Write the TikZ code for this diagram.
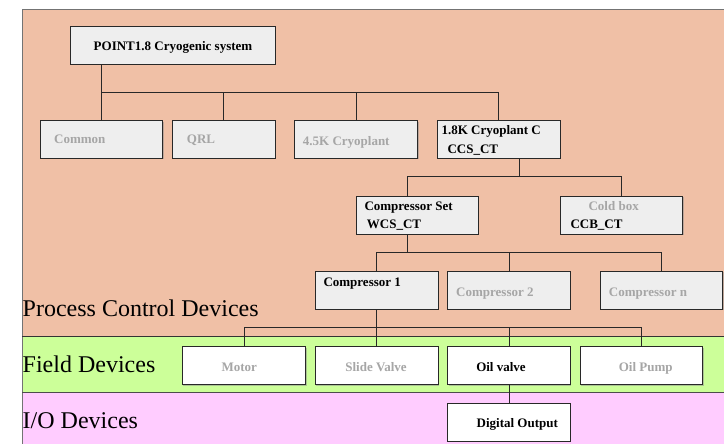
\documentclass[tikz,border=0pt]{standalone}
\usepackage{fontspec}
\setmainfont{Liberation Serif}
\usetikzlibrary{shadows}

\definecolor{pcband}{RGB}{240,192,166}
\definecolor{fdband}{RGB}{204,255,153}
\definecolor{ioband}{RGB}{255,204,255}
\definecolor{boxgray}{RGB}{238,238,238}
\definecolor{dimtext}{RGB}{166,166,166}
\definecolor{edge}{RGB}{40,40,40}

\tikzset{
  unit/.style={draw=edge, line width=0.9pt, inner sep=0pt,
    drop shadow={shadow xshift=1pt, shadow yshift=-1pt, fill=black!45, opacity=.5}},
  ctrlbox/.style={unit, fill=boxgray},
  fieldbox/.style={unit, fill=white},
  boxtext/.style={inner sep=0pt, font=\fontsize{13}{15}\selectfont\bfseries},
  activetext/.style={boxtext, text=black},
  idletext/.style={boxtext, text=dimtext},
  bandtext/.style={inner sep=0pt, anchor=base west, font=\fontsize{24}{28}\selectfont},
  wire/.style={draw=edge, line width=0.8pt},
}

% \unitbox{name}{x1}{y1}{x2}{y2}{style}
\newcommand{\unitbox}[6]{%
  \node[#6, minimum width={#4-#2}, minimum height={#5-#3}] (#1) at ({(#2+#4)/2},{(#3+#5)/2}) {};}

\begin{document}
\begin{tikzpicture}[x=1pt, y=-1pt]
\useasboundingbox (0,0) rectangle (724,444);

% bands
\fill[pcband] (22,10) rectangle (724,336.5);
\fill[fdband] (22,336.5) rectangle (724,392);
\fill[ioband] (22,392) rectangle (724,444);
\draw[black!55, line width=1pt] (22,444) -- (22,10) -- (724,10);
\draw[black!80, line width=0.8pt] (22,336.5) -- (724,336.5);
\draw[black!70, line width=0.8pt] (22,392) -- (724,392);

\node[bandtext] (lpc) at (22.5,316.7) {Process Control Devices};
\node[bandtext] (lfd) at (22.5,372.7) {Field Devices};
\node[bandtext] (lio) at (22.5,428.3) {I/O Devices};

% boxes
\unitbox{point}{70.7}{26.7}{275}{64.3}{ctrlbox}
\unitbox{common}{40}{120.7}{162.7}{158.3}{ctrlbox}
\unitbox{qrl}{172.7}{120.7}{275}{158.3}{ctrlbox}
\unitbox{cfour}{294.7}{120.7}{417.7}{158.3}{ctrlbox}
\unitbox{cone}{437.3}{120.7}{560.3}{158.3}{ctrlbox}
\unitbox{cset}{356}{196}{478.3}{234.3}{ctrlbox}
\unitbox{cold}{560.3}{196}{682.7}{234.3}{ctrlbox}
\unitbox{compa}{315}{271.3}{438.3}{309.3}{ctrlbox}
\unitbox{compb}{447.7}{271.3}{570.3}{309.3}{ctrlbox}
\unitbox{compn}{600.7}{271.3}{722.8}{309.3}{ctrlbox}
\unitbox{motor}{182.3}{346.5}{305.7}{384.5}{fieldbox}
\unitbox{slide}{315}{346.5}{438.3}{384.5}{fieldbox}
\unitbox{oil}{447.7}{346.5}{570.3}{384.5}{fieldbox}
\unitbox{pump}{580.3}{346.5}{702.7}{384.5}{fieldbox}
\unitbox{dig}{447.7}{403}{570.3}{441}{fieldbox}

% box texts
\node[activetext, anchor=base] (tpoint) at (173,50.5) {POINT1.8 Cryogenic system};
\node[idletext, anchor=base west] (tcommon) at (54,143) {Common};
\node[idletext, anchor=base west] (tqrl) at (186.7,143) {QRL};
\node[idletext, anchor=base west] (tcfour) at (302.7,146) {4.5K Cryoplant};
\node[activetext, anchor=base west] (tcone) at (441.3,135) {1.8K Cryoplant C};
\node[activetext, anchor=base west] (tcone2) at (447.3,153.3) {CCS\_CT};
\node[activetext, anchor=base west] (tcset) at (364.3,211) {Compressor Set};
\node[activetext, anchor=base west] (tcset2) at (366.7,228.3) {WCS\_CT};
\node[idletext, anchor=base] (tcold) at (613.7,211) {Cold box};
\node[activetext, anchor=base west] (tcold2) at (570.3,228.3) {CCB\_CT};
\node[activetext, anchor=base west] (tcompa) at (323.3,286) {Compressor 1};
\node[idletext, anchor=base west] (tcompb) at (456,296) {Compressor 2};
\node[idletext, anchor=base west] (tcompn) at (608.7,296) {Compressor n};
\node[idletext, anchor=base] (tmotor) at (239.3,371) {Motor};
\node[idletext, anchor=base] (tslide) at (376,371) {Slide Valve};
\node[activetext, anchor=base] (toil) at (501,371) {Oil valve};
\node[idletext, anchor=base] (tpump) at (645.7,371) {Oil Pump};
\node[activetext, anchor=base] (tdig) at (517.3,427) {Digital Output};

% connectors
\draw[wire] (point.south -| common.north) -- ++(0,28.4);
\draw[wire] (common.north) -- ++(0,-28) -| (cone.north);
\draw[wire] (qrl.north) -- ++(0,-28);
\draw[wire] (cfour.north) -- ++(0,-28);

\draw[wire] ([xshift=20.5pt]cone.south) -- ++(0,18.7);
\draw[wire] ([xshift=-10.2pt]cset.north) -- ++(0,-19) -| (cold.north);

\draw[wire] ([xshift=-10.2pt]cset.south) -- ++(0,18.6);
\draw[wire] (compa.north) -- ++(0,-18.6) -| (compn.north);
\draw[wire] (compb.north) -- ++(0,-18.6);

\draw[wire] (compa.south) -- ++(0,18.7);
\draw[wire] (motor.north) -- ++(0,-18.5) -| (pump.north);
\draw[wire] (slide.north) -- ++(0,-18.5);
\draw[wire] (oil.north) -- ++(0,-18.5);

\draw[wire] (oil.south) -- (dig.north);
\end{tikzpicture}
\end{document}
